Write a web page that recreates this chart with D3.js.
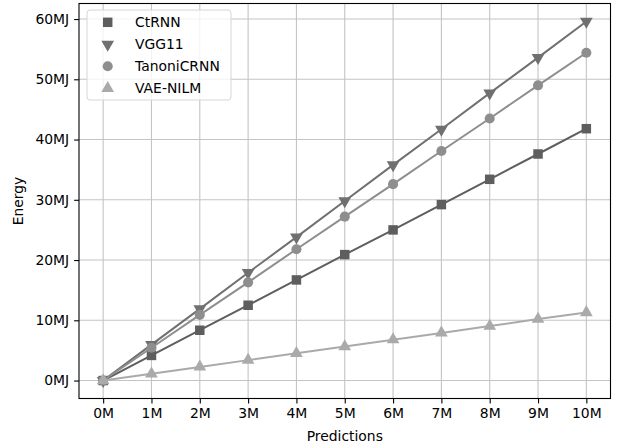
<!DOCTYPE html>
<html>
<head>
<meta charset="UTF-8">
<style>
  body { margin: 0; background: #fff; }
  svg { font-family: "DejaVu Sans", sans-serif; }
</style>
</head>
<body>
<svg id="chart" width="618" height="447"></svg>
<script src="https://cdn.jsdelivr.net/npm/d3@7/dist/d3.min.js"></script>
<script>
// data
var predictions = [0, 1, 2, 3, 4, 5, 6, 7, 8, 9, 10];
var ctrnn  = [0, 4.17, 8.35, 12.5, 16.7, 20.9, 25.0, 29.2, 33.4, 37.6, 41.8];
var vgg11  = [0, 5.96, 11.9, 17.9, 23.8, 29.8, 35.8, 41.7, 47.7, 53.6, 59.6];
var tanoni = [0, 5.44, 10.9, 16.3, 21.8, 27.2, 32.6, 38.1, 43.5, 49.0, 54.4];
var vae    = [0, 1.13, 2.26, 3.39, 4.52, 5.65, 6.78, 7.91, 9.04, 10.2, 11.3];
var yTicks = [0, 10, 20, 30, 40, 50, 60];

var series = [
  {name: "CtRNN", values: ctrnn, color: "#5e5e5e", symbol: d3.symbolSquare, size: 90, rot: 0},
  {name: "VGG11", values: vgg11, color: "#707070", symbol: d3.symbolTriangle, size: 70, rot: 180},
  {name: "TanoniCRNN", values: tanoni, color: "#8e8e8e", symbol: d3.symbolCircle, size: 80, rot: 0},
  {name: "VAE-NILM", values: vae, color: "#aaaaaa", symbol: d3.symbolTriangle, size: 70, rot: 0}
];

var svg = d3.select("#chart");
var plotL = 79, plotR = 610.5, plotT = 3.5, plotB = 398.5;

var x = d3.scaleLinear().domain([-0.5, 10.5]).range([plotL, plotR]);
var y = d3.scaleLinear().domain([-2.98, 62.58]).range([plotB, plotT]);

// grid
var grid = svg.append("g");
grid.selectAll(".gx").data(predictions).enter().append("line")
  .attr("x1", function(d) { return x(d); }).attr("x2", function(d) { return x(d); })
  .attr("y1", plotT).attr("y2", plotB)
  .attr("stroke", "#c4c4c4").attr("stroke-width", 1.1);
grid.selectAll(".gy").data(yTicks).enter().append("line")
  .attr("y1", function(d) { return y(d); }).attr("y2", function(d) { return y(d); })
  .attr("x1", plotL).attr("x2", plotR)
  .attr("stroke", "#c4c4c4").attr("stroke-width", 1.1);

// lines + markers
var line = d3.line()
  .x(function(d, i) { return x(predictions[i]); })
  .y(function(d) { return y(d); });

series.forEach(function(s) {
  svg.append("path").datum(s.values)
    .attr("d", line)
    .attr("fill", "none")
    .attr("stroke", s.color)
    .attr("stroke-width", 2);
  svg.selectAll(null).data(s.values).enter().append("path")
    .attr("d", d3.symbol().type(s.symbol).size(s.size))
    .attr("transform", function(d, i) {
      return "translate(" + x(predictions[i]) + "," + y(d) + ") rotate(" + s.rot + ")";
    })
    .attr("fill", s.color);
});

// axes
var xAxis = d3.axisBottom(x).tickValues(predictions)
  .tickFormat(function(d) { return d + "M"; }).tickSize(4.9).tickPadding(4.9);
var yAxis = d3.axisLeft(y).tickValues(yTicks)
  .tickFormat(function(d) { return d + "MJ"; }).tickSize(4.9).tickPadding(4.9);

var gx = svg.append("g").attr("transform", "translate(0," + plotB + ")").call(xAxis);
var gy = svg.append("g").attr("transform", "translate(" + plotL + ",0)").call(yAxis);
[gx, gy].forEach(function(g) {
  g.select(".domain").remove();
  g.selectAll(".tick line").attr("stroke", "#000").attr("stroke-width", 1.1);
  g.selectAll(".tick text").attr("fill", "#000")
    .style("font-size", "13.9px").style("font-family", "DejaVu Sans");
});

// frame
svg.append("rect")
  .attr("x", plotL).attr("y", plotT)
  .attr("width", plotR - plotL).attr("height", plotB - plotT)
  .attr("fill", "none").attr("stroke", "#000").attr("stroke-width", 1.1);

// axis labels
svg.append("text")
  .attr("x", (plotL + plotR) / 2).attr("y", 441)
  .attr("text-anchor", "middle")
  .style("font-size", "13.9px")
  .text("Predictions");
svg.append("text")
  .attr("transform", "translate(23," + (plotT + plotB) / 2 + ") rotate(-90)")
  .attr("text-anchor", "middle")
  .style("font-size", "13.9px")
  .text("Energy");

// legend
var legend = svg.append("g");
legend.append("rect")
  .attr("x", 87).attr("y", 10)
  .attr("width", 144).attr("height", 90)
  .attr("rx", 3)
  .attr("fill", "#fff").attr("fill-opacity", 0.8)
  .attr("stroke", "#d6d6d6").attr("stroke-width", 1);

series.forEach(function(s, i) {
  var ly = 22.3 + i * 22;
  legend.append("path")
    .attr("d", d3.symbol().type(s.symbol).size(s.size))
    .attr("transform", "translate(107.7," + ly + ") rotate(" + s.rot + ")")
    .attr("fill", s.color);
  legend.append("text")
    .attr("x", 135).attr("y", ly + 5)
    .style("font-size", "13.9px")
    .text(s.name);
});
</script>
</body>
</html>
